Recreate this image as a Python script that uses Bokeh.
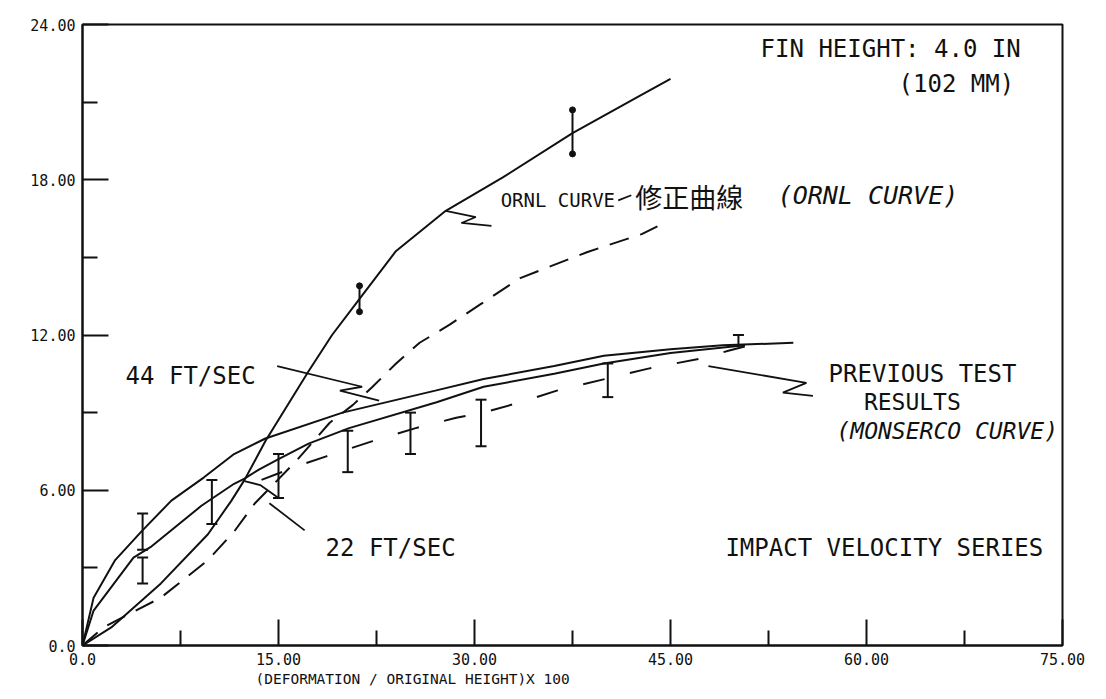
from bokeh.plotting import figure
from bokeh.models import Label, FixedTicker, Range1d, Title
from bokeh.embed import file_html
from bokeh.resources import INLINE

# ---------------- data ----------------
ornl_x = [0, 2.2, 6.0, 9.6, 11.4, 12.4, 14.0, 17.3, 19.1, 21.2, 24.0, 27.8, 32.2, 37.5, 42.5, 45.0]
ornl_y = [0, 0.7, 2.4, 4.3, 5.6, 6.4, 7.9, 10.6, 12.0, 13.4, 15.25, 16.8, 18.1, 19.8, 21.2, 21.9]

corr_x = [0, 1.6, 6.0, 9.6, 11.6, 13.2, 16.3, 18.9, 20.7, 22.2, 24.0, 25.8, 28.1, 30.5, 33.5, 38.6, 42.8, 44.0]
corr_y = [0, 0.7, 1.85, 3.3, 4.4, 5.5, 7.1, 8.6, 9.3, 10.0, 10.9, 11.7, 12.4, 13.2, 14.2, 15.2, 15.9, 16.2]

v44_x = [0, 0.85, 2.5, 4.5, 6.8, 9.3, 11.6, 14.0, 19.9, 27.0, 30.7, 36.1, 39.9, 45.0, 49.0, 54.4]
v44_y = [0, 1.85, 3.3, 4.4, 5.6, 6.5, 7.4, 8.0, 9.0, 9.85, 10.3, 10.8, 11.2, 11.45, 11.6, 11.7]

v22_x = [0, 0.85, 3.9, 5.2, 9.1, 11.6, 12.4, 13.5, 15.0, 17.3, 20.4, 27.1, 30.7, 36.1, 39.9, 45.0, 50.7]
v22_y = [0, 1.35, 3.4, 3.8, 5.4, 6.25, 6.45, 6.8, 7.2, 7.8, 8.4, 9.4, 10.0, 10.5, 10.9, 11.3, 11.6]

mons_x = [13.7, 16.8, 18.6, 22.2, 25.5, 28.6, 30.7, 33.5, 36.3, 40.0, 43.3, 47.4, 49.5, 51.0]
mons_y = [6.4, 7.0, 7.3, 7.9, 8.4, 8.8, 9.0, 9.4, 9.85, 10.3, 10.7, 11.1, 11.4, 11.6]

test_err_x = [4.6, 4.6, 9.9, 15.0, 20.3, 25.1, 30.5, 40.2, 50.2]
test_err_lo = [3.7, 2.4, 4.7, 5.7, 6.7, 7.4, 7.7, 9.6, 11.6]
test_err_hi = [5.1, 3.4, 6.4, 7.4, 8.3, 9.0, 9.5, 10.9, 12.0]

ornl_err_x = [21.2, 37.5]
ornl_err_lo = [12.9, 19.0]
ornl_err_hi = [13.9, 20.7]

x_ticks = [0, 15, 30, 45, 60, 75]
x_minor = [7.5, 22.5, 37.5, 52.5, 67.5]
x_tick_labels = ["0.0", "15.00", "30.00", "45.00", "60.00", "75.00"]
y_ticks = [0, 6, 12, 18, 24]
y_minor = [3, 9, 15, 21]
y_tick_labels = ["0.0", "6.00", "12.00", "18.00", "24.00"]

x_label = "(DEFORMATION / ORIGINAL HEIGHT)X 100"

# annotation leader lines (data units)
lead_ornl_x = [27.8, 30.1, 29.0, 31.3]
lead_ornl_y = [16.8, 16.56, 16.33, 16.22]
lead_dash_x = [41.0, 42.0]
lead_dash_y = [17.2, 17.4]
lead_44_x = [14.9, 21.4, 19.7, 22.7]
lead_44_y = [10.8, 10.0, 9.85, 9.46]
lead_22_x = [17.0, 14.3]
lead_22_y = [4.45, 5.5]
lead_22b_x = [12.4, 13.6, 15.0]
lead_22b_y = [6.35, 6.2, 5.7]
lead_prev_x = [47.9, 55.4, 53.6, 55.9]
lead_prev_y = [10.8, 10.15, 9.77, 9.65]

FONT = "DejaVu Sans Mono"
INK = "#111111"

p = figure(width=1106, height=699, x_range=Range1d(0, 75), y_range=Range1d(0, 24),
           output_backend="svg", toolbar_location=None,
           min_border_left=82, min_border_right=44, min_border_top=24, min_border_bottom=54)
p.background_fill_color = "white"
p.border_fill_color = "white"
p.outline_line_color = INK
p.outline_line_width = 2
p.xgrid.visible = False
p.ygrid.visible = False

for ax, ticks, minor, labels in ((p.xaxis[0], x_ticks, x_minor, x_tick_labels),
                                 (p.yaxis[0], y_ticks, y_minor, y_tick_labels)):
    ax.ticker = FixedTicker(ticks=ticks, minor_ticks=minor)
    ax.major_label_overrides = {t: l for t, l in zip(ticks, labels)}
    ax.axis_line_color = INK
    ax.axis_line_width = 2
    ax.major_tick_line_color = INK
    ax.major_tick_line_width = 2
    ax.minor_tick_line_color = INK
    ax.minor_tick_line_width = 2
    ax.major_tick_in = 26
    ax.major_tick_out = 0
    ax.minor_tick_in = 15
    ax.minor_tick_out = 0
    ax.major_label_text_font = FONT
    ax.major_label_text_font_size = "15px"
    ax.major_label_text_color = INK
    ax.major_label_standoff = 7

# x-axis title, placed like the original (left part of the axis)
p.add_layout(Title(text=x_label, align="left", offset=173, text_font=FONT,
                   text_font_size="14.5px", text_font_style="normal", text_color=INK,
                   standoff=2), "below")

# curves
p.line(ornl_x, ornl_y, line_color=INK, line_width=2)
p.line(corr_x, corr_y, line_color=INK, line_width=2, line_dash="20 12")
p.line(v44_x, v44_y, line_color=INK, line_width=2)
p.line(v22_x, v22_y, line_color=INK, line_width=2)
p.line(mons_x, mons_y, line_color=INK, line_width=2, line_dash="22 26")

# error bars
p.segment(x0=test_err_x, y0=test_err_lo, x1=test_err_x, y1=test_err_hi, line_color=INK, line_width=2)
p.scatter(test_err_x, test_err_lo, marker="dash", size=11, line_color=INK, line_width=2)
p.scatter(test_err_x, test_err_hi, marker="dash", size=11, line_color=INK, line_width=2)
p.segment(x0=ornl_err_x, y0=ornl_err_lo, x1=ornl_err_x, y1=ornl_err_hi, line_color=INK, line_width=2)
p.scatter(ornl_err_x, ornl_err_lo, marker="circle", size=6, fill_color=INK, line_color=INK)
p.scatter(ornl_err_x, ornl_err_hi, marker="circle", size=6, fill_color=INK, line_color=INK)

# leader lines
for lx, ly in ((lead_ornl_x, lead_ornl_y), (lead_dash_x, lead_dash_y), (lead_44_x, lead_44_y),
               (lead_22_x, lead_22_y), (lead_22b_x, lead_22b_y), (lead_prev_x, lead_prev_y)):
    p.line(lx, ly, line_color=INK, line_width=1.8)

def lab(x, y, text, size, font=FONT, align="left", style="normal"):
    p.add_layout(Label(x=x, y=y, text=text, text_font=font, text_font_size=size,
                       text_color=INK, text_align=align, text_baseline="middle",
                       text_font_style=style))

lab(71.8, 23.05, "FIN HEIGHT: 4.0 IN", "24px", align="right")
lab(71.3, 21.7, "(102 MM)", "24px", align="right")
lab(32.0, 17.2, "ORNL CURVE", "19px")
lab(42.3, 17.35, "修正曲線", "27px", font="Noto Sans CJK TC")
lab(53.2, 17.4, "(ORNL CURVE)", "25px", style="italic")
lab(3.3, 10.4, "44 FT/SEC", "24px")
lab(18.6, 3.75, "22 FT/SEC", "24px")
lab(57.1, 10.5, "PREVIOUS TEST", "24px")
lab(59.8, 9.4, "RESULTS", "23px")
lab(57.7, 8.3, "(MONSERCO CURVE)", "23px", style="italic")
lab(49.2, 3.75, "IMPACT VELOCITY SERIES", "24px")

open("out.html", "w").write(file_html(p, INLINE))
